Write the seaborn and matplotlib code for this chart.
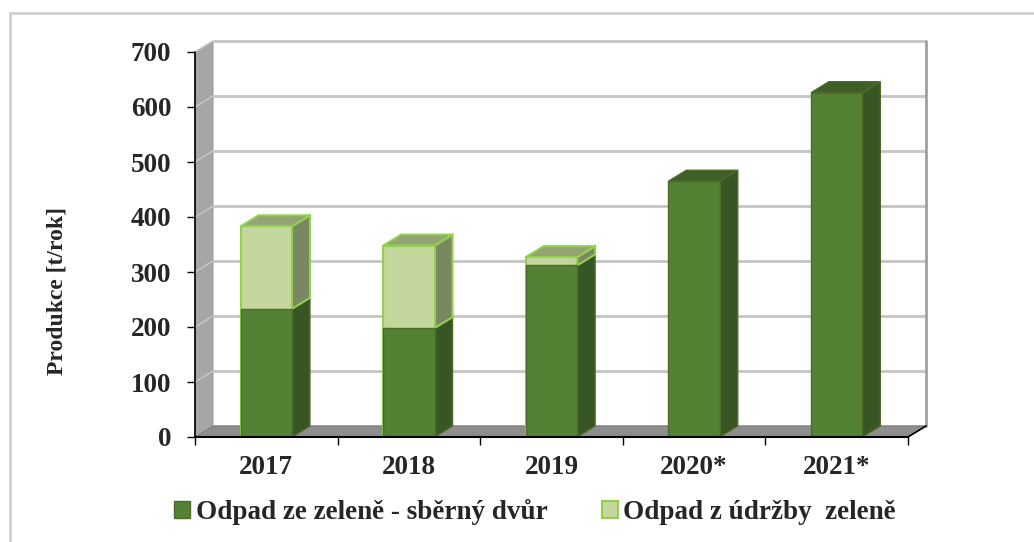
import numpy as np
import pandas as pd
import matplotlib
matplotlib.use("Agg")
import matplotlib.pyplot as plt
import seaborn as sns
from matplotlib.patches import Polygon, Rectangle, Patch

# ---- data ----
roky = ["2017", "2018", "2019", "2020*", "2021*"]
sberny_dvur = [233, 198, 312, 465, 626]
udrzba_zelene = [150, 150, 15, 0, 0]
y_ticks = [0, 100, 200, 300, 400, 500, 600, 700]
series_names = ["Odpad ze zeleně - sběrný dvůr", "Odpad z údržby  zeleně"]
y_label = "Produkce [t/rok]"

# ---- style ----
DARK, DSIDE, DTOP, DEDGE = "#548235", "#375623", "#3e5f28", "#4f6a2a"
LIGHT, LSIDE, LTOP, LEDGE = "#c3d69b", "#7a8760", "#94a373", "#92d050"
WALL_SIDE, FLOOR, GRID = "#a6a6a6", "#8e8e8e", "#c4c4c4"
FS = 19.5

sns.set_theme(style="white")
plt.rcParams["font.family"] = ["Liberation Serif", "DejaVu Serif"]
plt.rcParams["font.weight"] = "bold"

fig = plt.figure(figsize=(10.34, 5.42), dpi=100)
ax = fig.add_axes([195 / 1034, 1 - 437 / 542, 713 / 1034, 385 / 542])
ax.set_facecolor("none")

df = pd.DataFrame({
    "rok": roky,
    "dvur": sberny_dvur,
    "celkem": np.array(sberny_dvur) + np.array(udrzba_zelene),
})

sns.barplot(data=df, x="rok", y="celkem", color=LIGHT, saturation=1, width=0.36,
            edgecolor=LEDGE, linewidth=1.5, ax=ax, zorder=5)
n = len(ax.patches)
sns.barplot(data=df, x="rok", y="dvur", color=DARK, saturation=1, width=0.36,
            edgecolor=DEDGE, linewidth=1.0, ax=ax, zorder=6)

ax.set_xlim(-0.5, 4.5)
ax.set_ylim(0, 700)
dx, dy = 0.126, 20
x_l, x_r = -0.5, 4.5
ytop = y_ticks[-1]

# walls and floor
ax.add_patch(Rectangle((x_l + dx, dy), x_r - x_l, ytop, facecolor="white",
                       edgecolor="none", zorder=0, clip_on=False))
ax.add_patch(Polygon([(x_l, 0), (x_l + dx, dy), (x_l + dx, ytop + dy), (x_l, ytop)],
                     closed=True, facecolor=WALL_SIDE, edgecolor="#9a9a9a", lw=0.8,
                     zorder=1, clip_on=False))
for v in y_ticks:
    ax.plot([x_l + dx, x_r + dx], [v + dy, v + dy], color=GRID, lw=2, zorder=1,
            clip_on=False, solid_capstyle="butt")
    ax.plot([x_l, x_l + dx], [v, v + dy], color="#c8c8c8", lw=1, zorder=1.5, clip_on=False)
ax.plot([x_r + dx, x_r + dx], [dy, ytop + dy], color="#a0a0a0", lw=2, zorder=1, clip_on=False)
ax.add_patch(Polygon([(x_l, 0), (x_r, 0), (x_r + dx, dy), (x_l + dx, dy)], closed=True,
                     facecolor=FLOOR, edgecolor="#7f7f7f", lw=0.8, zorder=2, clip_on=False))

# 3D faces of bars
for i in range(n):
    lp = ax.patches[i]
    dp = ax.patches[n + i]
    x0 = dp.get_x()
    x1 = x0 + dp.get_width()
    hd = dp.get_height()
    ht = lp.get_height()
    ax.add_patch(Polygon([(x1, 0), (x1 + dx, dy), (x1 + dx, hd + dy), (x1, hd)], closed=True,
                         facecolor=DSIDE, edgecolor=DEDGE, lw=1.0, zorder=4))
    if ht > hd:
        ax.add_patch(Polygon([(x1, hd), (x1 + dx, hd + dy), (x1 + dx, ht + dy), (x1, ht)],
                             closed=True, facecolor=LSIDE, edgecolor=LEDGE, lw=1.5, zorder=4))
        top_c, top_e, lw = LTOP, LEDGE, 1.5
    else:
        lp.set_visible(False)
        top_c, top_e, lw = DTOP, DEDGE, 1.0
    ax.add_patch(Polygon([(x0, ht), (x1, ht), (x1 + dx, ht + dy), (x0 + dx, ht + dy)],
                         closed=True, facecolor=top_c, edgecolor=top_e, lw=lw, zorder=4,
                         clip_on=False))

# axes lines
for s in ax.spines.values():
    s.set_visible(False)
ax.plot([x_l, x_l], [0, ytop], color="black", lw=1.2, zorder=8, clip_on=False)
ax.plot([x_l, x_r], [0, 0], color="black", lw=1.5, zorder=8, clip_on=False)
ax.plot([x_r, x_r + dx], [0, dy], color="black", lw=1.2, zorder=8, clip_on=False)

ax.set_yticks(y_ticks)
ax.set_yticklabels([str(v) for v in y_ticks], fontsize=FS, fontweight="bold")
ax.set_xticks(range(len(roky)))
ax.set_xticklabels(roky, fontsize=FS, fontweight="bold")
ax.set_xticks(np.arange(-0.5, len(roky)), minor=True)
ax.tick_params(axis="y", which="major", left=True, length=6, width=1, color="black",
               direction="out", pad=11)
ax.tick_params(axis="x", which="major", bottom=False, length=0, pad=13)
ax.tick_params(axis="x", which="minor", bottom=True, length=6, width=1, color="black",
               direction="out")
ax.set_xlabel("")
ax.set_ylabel("")

fig.text(57 / 1034, 1 - 291 / 542, y_label, rotation=90, ha="center", va="center",
         fontsize=17, fontweight="bold")

handles = [Patch(facecolor=DARK, edgecolor=DEDGE, lw=1),
           Patch(facecolor=LIGHT, edgecolor=LEDGE, lw=1.5)]
fig.legend(handles, series_names, loc="center", bbox_to_anchor=(535 / 1034, 1 - 512 / 542),
           ncol=2, frameon=False, prop={"size": FS, "weight": "bold"},
           handlelength=0.6, handleheight=0.6, handletextpad=0.2, columnspacing=2.0)

fig.add_artist(Rectangle((10 / 1034, -0.1), 1.2, 1 - 13 / 542 + 0.1,
                         transform=fig.transFigure, fill=False, edgecolor="#d0d0d0", lw=2))

fig.savefig("out.png", dpi=100)
